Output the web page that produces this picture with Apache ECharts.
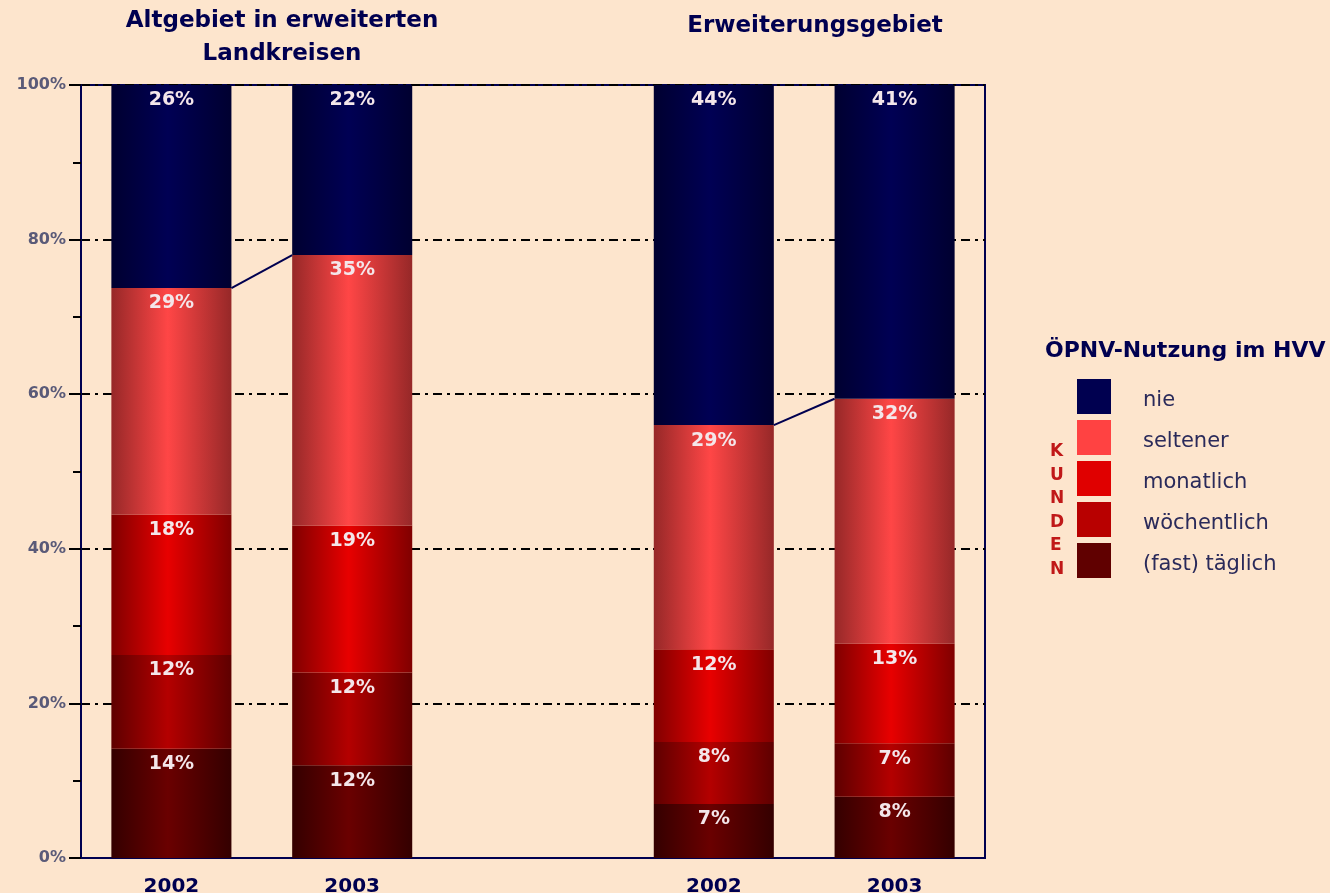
<!DOCTYPE html>
<html>
<head>
<meta charset="utf-8">
<title>ÖPNV-Nutzung im HVV</title>
<script src="https://cdn.jsdelivr.net/npm/echarts@6/dist/echarts.min.js"></script>
<style>
    html, body { margin: 0; padding: 0; background: #fde5cd; }
    #chartMain { width: 1330px; height: 893px; }
</style>
</head>
<body>
<div id="chartMain"></div>
<script>
// Daten (Prozent laut Beschriftung), mittlere Kategorie ist leer
var categories = ['2002', '2003', '', '2002', '2003'];
var taeglich = [14, 12, null, 7, 8];
var woechentlich = [12, 12, null, 8, 7];
var monatlich = [18, 19, null, 12, 13];
var seltener = [29, 35, null, 29, 32];
var nie = [26, 22, null, 44, 41];
var yTicks = [0, 20, 40, 60, 80, 100];

var seriesNames = ['(fast) täglich', 'wöchentlich', 'monatlich', 'seltener', 'nie'];
var seriesValues = [taeglich, woechentlich, monatlich, seltener, nie];
var legendColors = ['#600000', '#b80000', '#e00000', '#ff4242', '#000050'];
var edgeColors = ['#340000', '#5e0000', '#800000', '#962828', '#000030'];
var midColors = ['#6a0000', '#b40000', '#e80000', '#ff4646', '#000054'];

var navy = '#000050';
var font = 'DejaVu Sans, Verdana, sans-serif';
var barShare = 0.664;

// Summe je Säule, Werte auf 100% normieren
var totals = categories.map(function (c, i) {
    var s = 0;
    seriesValues.forEach(function (arr) { s += arr[i] || 0; });
    return s;
});

function gradient(k) {
    return new echarts.graphic.LinearGradient(0, 0, 1, 0, [
        { offset: 0, color: edgeColors[k] },
        { offset: 0.47, color: midColors[k] },
        { offset: 1, color: edgeColors[k] }
    ]);
}

var series = seriesNames.map(function (name, k) {
    var vals = seriesValues[k];
    return {
        name: name,
        type: 'bar',
        stack: 'total',
        barWidth: (barShare * 100) + '%',
        data: vals.map(function (v, i) {
            return v == null ? null : v / totals[i] * 100;
        }),
        itemStyle: { color: gradient(k) },
        label: {
            show: true,
            position: 'insideTop',
            distance: 6,
            color: '#f4e6ea',
            fontFamily: font,
            fontWeight: 'bold',
            fontSize: 19,
            formatter: function (p) {
                return vals[p.dataIndex] + '%';
            }
        }
    };
});

// Verbindungslinien: Oberkante "seltener" von 2002 nach 2003
function topOfSeltener(i) {
    return (taeglich[i] + woechentlich[i] + monatlich[i] + seltener[i]) / totals[i] * 100;
}
[[0, 1], [3, 4]].forEach(function (pair) {
    series.push({
        type: 'line',
        xAxisIndex: 1,
        symbol: 'none',
        silent: true,
        z: 5,
        lineStyle: { color: navy, width: 2 },
        data: [
            [pair[0] + 0.5 + barShare / 2, topOfSeltener(pair[0])],
            [pair[1] + 0.5 - barShare / 2, topOfSeltener(pair[1])]
        ]
    });
});

var myChart = echarts.init(document.getElementById('chartMain'));

var option = {
    backgroundColor: '#fde5cd',
    animation: false,
    textStyle: { fontFamily: font },
    title: [{
        text: 'Altgebiet in erweiterten\nLandkreisen',
        left: 277,
        top: 0,
        textAlign: 'center',
        textStyle: { color: navy, fontFamily: font, fontSize: 23, fontWeight: 'bold', lineHeight: 33 }
    }, {
        text: 'Erweiterungsgebiet',
        left: 810,
        top: 5,
        textAlign: 'center',
        textStyle: { color: navy, fontFamily: font, fontSize: 23, fontWeight: 'bold', lineHeight: 33 }
    }],
    legend: {
        orient: 'vertical',
        left: 1077,
        top: 379,
        padding: 0,
        itemWidth: 34,
        itemHeight: 35,
        itemGap: 6,
        icon: 'rect',
        selectedMode: false,
        data: seriesNames.slice().reverse().map(function (n) {
            return { name: n, itemStyle: { color: legendColors[seriesNames.indexOf(n)] } };
        }),
        formatter: '{t|{name}}',
        textStyle: {
            rich: {
                t: { color: '#2a2a5a', fontFamily: font, fontSize: 21, padding: [8, 0, 0, 27] }
            }
        }
    },
    graphic: [{
        type: 'text',
        left: 1045,
        top: 340,
        style: { text: 'ÖPNV-Nutzung im HVV', fill: navy, font: 'bold 22px ' + font }
    }, {
        type: 'text',
        left: 1050,
        top: 440,
        style: {
            text: 'K\nU\nN\nD\nE\nN',
            fill: '#c01818',
            font: 'bold 17px ' + font,
            lineHeight: 23.5,
            align: 'center'
        }
    }],
    grid: {
        left: 81,
        right: 345,
        top: 85,
        bottom: 35,
        outerBoundsMode: 'none',
        show: true,
        borderColor: navy,
        borderWidth: 2,
        backgroundColor: 'transparent'
    },
    xAxis: [{
        type: 'category',
        data: categories,
        axisLine: { lineStyle: { color: navy, width: 2 } },
        axisTick: { show: false },
        axisLabel: { color: navy, fontFamily: font, fontSize: 20, fontWeight: 'bold', margin: 19 }
    }, {
        type: 'value',
        min: 0,
        max: categories.length,
        show: false
    }],
    yAxis: {
        type: 'value',
        min: yTicks[0],
        max: yTicks[yTicks.length - 1],
        interval: 20,
        axisLine: { show: true, lineStyle: { color: navy, width: 2 } },
        axisTick: { show: true, length: 12, lineStyle: { color: '#000', width: 2 } },
        minorTick: { show: true, splitNumber: 2, length: 8, lineStyle: { color: '#000', width: 2 } },
        axisLabel: { formatter: '{value}%', color: '#5a5a78', fontFamily: font, fontSize: 16, fontWeight: 'bold', margin: 15 },
        splitLine: { show: true, lineStyle: { color: '#000', width: 2, type: [9, 5, 3, 5] } }
    },
    series: series
};

myChart.setOption(option);
</script>
</body>
</html>
